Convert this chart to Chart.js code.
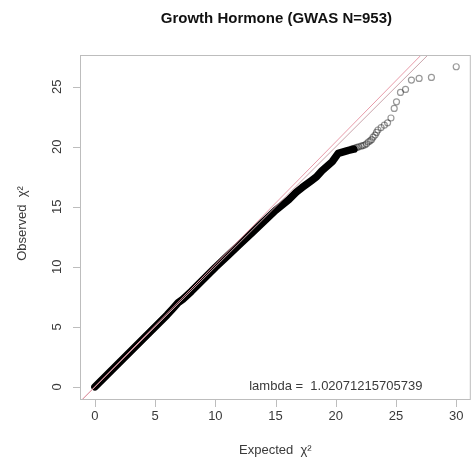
<!DOCTYPE html>
<html>
<head>
<meta charset="utf-8">
<script src="https://cdn.jsdelivr.net/npm/chart.js@4"></script>
<style>
  html, body { margin: 0; padding: 0; background: #fff; }
  #wrap { width: 476px; height: 470px; }
</style>
</head>
<body>
<div id="wrap"><canvas id="qq" width="476" height="470"></canvas></div>
<script>
// dense body of the QQ cloud (expected vs observed chi-square)
const bodyExpected = [0, 1, 2, 3, 4, 5, 6, 6.5, 6.9, 7.3, 8, 9, 10, 11, 12, 13, 14, 15, 16.1, 16.7, 17.2, 18.0, 18.4, 18.85, 19.7, 20.2, 21.05, 21.5];
const bodyObserved = [0, 1, 2, 3, 4, 5, 6, 6.55, 7.0, 7.3, 7.95, 8.95, 9.95, 10.9, 11.85, 12.8, 13.75, 14.7, 15.6, 16.2, 16.6, 17.2, 17.5, 18.0, 18.75, 19.45, 19.7, 19.8];

// sparse tail, drawn as separate circles
const tailExpected = [21.3, 21.45, 21.6, 21.75, 21.9, 22.1, 22.25, 22.4, 22.55, 22.7, 22.85, 22.98, 23.1, 23.26, 23.38, 23.5, 23.76, 24.03, 24.3, 24.58, 24.85, 25.04, 25.37, 25.79, 26.28, 26.92, 27.94, 30.0];
const tailObserved = [19.8, 19.85, 19.9, 19.95, 20.0, 20.05, 20.1, 20.15, 20.25, 20.4, 20.5, 20.6, 20.8, 20.98, 21.2, 21.4, 21.6, 21.8, 22.0, 22.4, 23.2, 23.75, 24.53, 24.78, 25.56, 25.7, 25.78, 26.67];

const xTicks = [0, 5, 10, 15, 20, 25, 30];
const yTicks = [0, 5, 10, 15, 20, 25];
const lambda = 1.02071215705739;

const xMin = -1.24, xMax = 31.21;
const yMin = -1.1, yMax = 27.65;

const FONT = '"Liberation Sans", Arial, Helvetica, sans-serif';

function pairs(xs, ys) {
  return xs.map((x, i) => ({ x: x, y: ys[i] }));
}

// R-style frame, ticks, labels and titles
const rFrame = {
  id: "rFrame",
  afterDraw(chart) {
    const { ctx, chartArea: { left, right, top, bottom }, scales: { x, y } } = chart;
    ctx.save();
    ctx.strokeStyle = "#bdbdbd";
    ctx.lineWidth = 1;
    ctx.strokeRect(left + 0.5, top + 0.5, right - left - 1, bottom - top - 1);

    ctx.beginPath();
    xTicks.forEach((t) => {
      const px = Math.round(x.getPixelForValue(t)) + 0.5;
      ctx.moveTo(px, bottom);
      ctx.lineTo(px, bottom + 7);
    });
    yTicks.forEach((t) => {
      const py = Math.round(y.getPixelForValue(t)) + 0.5;
      ctx.moveTo(left, py);
      ctx.lineTo(left - 7, py);
    });
    ctx.stroke();

    ctx.fillStyle = "#3a3a3a";
    ctx.font = "13px " + FONT;
    ctx.textAlign = "center";
    ctx.textBaseline = "middle";
    xTicks.forEach((t) => {
      ctx.fillText(String(t), x.getPixelForValue(t), 416);
    });
    yTicks.forEach((t) => {
      ctx.save();
      ctx.translate(57, y.getPixelForValue(t));
      ctx.rotate(-Math.PI / 2);
      ctx.fillText(String(t), 0, 0);
      ctx.restore();
    });

    ctx.fillText("Expected  \u03c7\u00b2", (left + right) / 2, 450);
    ctx.save();
    ctx.translate(22, (top + bottom) / 2 - 4);
    ctx.rotate(-Math.PI / 2);
    ctx.fillText("Observed  \u03c7\u00b2", 0, 0);
    ctx.restore();

    ctx.fillText("lambda =  " + String(lambda), x.getPixelForValue(20), y.getPixelForValue(0));

    ctx.fillStyle = "#111";
    ctx.font = "bold 15px " + FONT;
    ctx.fillText("Growth Hormone (GWAS N=953)", (left + right) / 2 + 1, 19);
    ctx.restore();
  },
};

new Chart(document.getElementById("qq"), {
  type: "scatter",
  data: {
    datasets: [
      {
        label: "lambda line",
        data: [{ x: xMin, y: xMin * lambda }, { x: xMax, y: xMax * lambda }],
        showLine: true,
        borderColor: "#e89aa8",
        borderWidth: 1,
        pointRadius: 0,
        clip: 0,
      },
      {
        label: "identity",
        data: [{ x: xMin, y: xMin }, { x: xMax, y: xMax }],
        showLine: true,
        borderColor: "#c9a3aa",
        borderWidth: 1,
        pointRadius: 0,
        clip: 0,
      },
      {
        label: "body",
        data: pairs(bodyExpected, bodyObserved),
        showLine: true,
        borderColor: "#000",
        borderWidth: 7.5,
        borderCapStyle: "round",
        borderJoinStyle: "round",
        pointRadius: 0,
        clip: 0,
      },
      {
        label: "tail",
        data: pairs(tailExpected, tailObserved),
        showLine: false,
        pointStyle: "circle",
        pointRadius: 3,
        pointBorderWidth: 1.2,
        pointBorderColor: "rgba(0,0,0,0.4)",
        pointBackgroundColor: "rgba(0,0,0,0)",
        clip: 0,
      },
    ],
  },
  options: {
    responsive: false,
    animation: false,
    events: [],
    layout: { padding: { left: 80, top: 55, right: 3, bottom: 70 } },
    plugins: {
      legend: { display: false },
      tooltip: { enabled: false },
    },
    scales: {
      x: { type: "linear", min: xMin, max: xMax, display: false },
      y: { type: "linear", min: yMin, max: yMax, display: false },
    },
  },
  plugins: [rFrame],
});
</script>
</body>
</html>
